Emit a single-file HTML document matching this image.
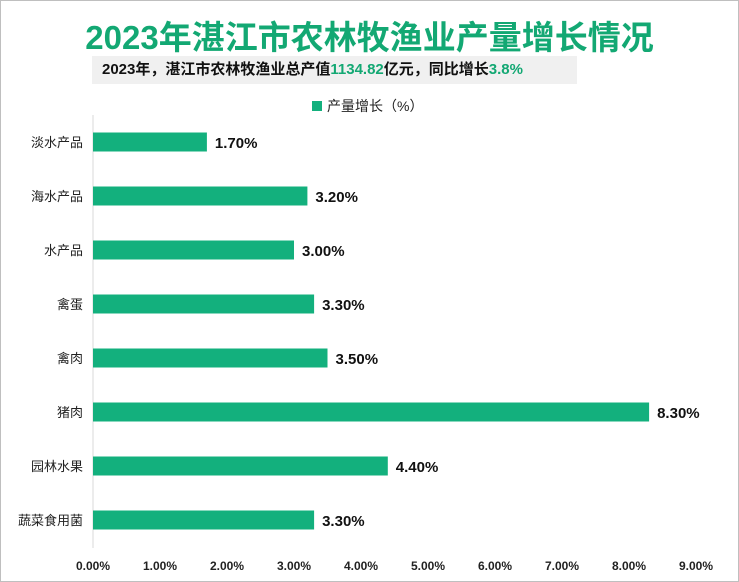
<!DOCTYPE html>
<html><head><meta charset="utf-8"><style>
body{margin:0;width:739px;height:582px;overflow:hidden;background:#fff;font-family:"Liberation Sans","Noto Sans CJK SC",sans-serif}
#frame{position:absolute;left:0;top:0;width:737px;height:580px;border:1px solid #bfbfbf}
#title{position:absolute;left:0;width:739px;top:11px;text-align:center;font-size:33px;font-weight:bold;color:#13a873;letter-spacing:0px}
#sub{position:absolute;left:92px;top:56px;width:485px;height:28px;background:#f0f0f0;font-size:15px;font-weight:bold;line-height:28px;box-sizing:border-box;padding-left:10px;color:#111}
#sub span{color:#13a873}
</style></head><body>
<div id="frame"></div>
<div id="title">2023年湛江市农林牧渔业产量增长情况</div>
<div id="sub">2023年，湛江市农林牧渔业总产值<span>1134.82</span>亿元，同比增长<span>3.8%</span></div>
<svg id="chart" width="739" height="582" style="position:absolute;left:0;top:0"></svg>
<script>
const categories=["淡水产品","海水产品","水产品","禽蛋","禽肉","猪肉","园林水果","蔬菜食用菌"];
const values=[1.7,3.2,3.0,3.3,3.5,8.3,4.4,3.3];
const tickValues=[0,1,2,3,4,5,6,7,8,9];
const ns="http://www.w3.org/2000/svg";
const svg=document.getElementById('chart');
const x0=93,x1=696,yTop=115,rowH=54,firstC=142,barH=19;
const xs=v=>x0+(v/9)*(x1-x0);
const yc=i=>firstC+i*rowH;
function mk(t,a){const e=document.createElementNS(ns,t);for(const k in a)e.setAttribute(k,a[k]);svg.appendChild(e);return e;}
const ax=mk('line',{x1:x0,x2:x0,y1:yTop,y2:548,stroke:'#d9d9d9'});


const lg=mk('rect',{x:312,y:101,width:10,height:10,fill:'#13b07d'});


const lt=mk('text',{x:327,y:111,'font-size':14,fill:'#222'});lt.textContent='产量增长（%）';


categories.forEach((c,i)=>{
 const r=mk('rect',{x:x0,y:yc(i)-barH/2,width:xs(values[i])-x0,height:barH,fill:'#13b07d'});
 
 
 const l=mk('text',{x:x0-10,y:yc(i)+5,'text-anchor':'end','font-size':13,fill:'#222'});l.textContent=c;
 
 
 const v=mk('text',{x:xs(values[i])+8,y:yc(i)+6,'font-size':15,'font-weight':'bold',fill:'#111'});v.textContent=values[i].toFixed(2)+'%';
 
 
});
tickValues.forEach(t=>{
 const e=mk('text',{x:xs(t),y:570,'text-anchor':'middle','font-size':12,'font-weight':'bold',fill:'#222'});e.textContent=t.toFixed(2)+'%';
 
 
});
</script>
</body></html>
